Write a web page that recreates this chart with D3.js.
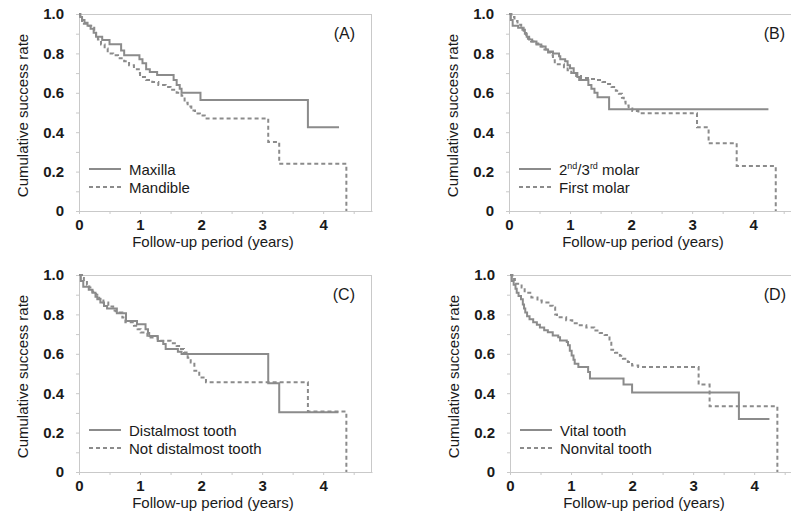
<!DOCTYPE html>
<html>
<head>
<meta charset="utf-8">
<script src="https://cdnjs.cloudflare.com/ajax/libs/d3/7.8.5/d3.min.js"></script>
<style>
body { margin: 0; background: #fff; }
text { font-family: "Liberation Sans", Arial, sans-serif; fill: #1a1a1a; }
</style>
</head>
<body>
<div id="chart-area"></div>
<script>
//Kaplan-Meier steps as [years, cumulative success rate]
var maxilla = [[0,1],[0.02,0.985],[0.05,0.97],[0.09,0.955],[0.14,0.94],[0.19,0.925],[0.24,0.905],[0.28,0.885],[0.38,0.868],[0.5,0.847],[0.69,0.815],[0.74,0.79],[0.99,0.77],[1.04,0.75],[1.1,0.72],[1.16,0.705],[1.28,0.69],[1.55,0.665],[1.6,0.64],[1.65,0.62],[1.68,0.6],[1.99,0.563],[3.75,0.425],[4.26,0.425]]
var mandible = [[0,1],[0.02,0.98],[0.05,0.965],[0.08,0.95],[0.14,0.94],[0.2,0.93],[0.25,0.915],[0.28,0.89],[0.31,0.87],[0.36,0.845],[0.42,0.825],[0.47,0.8],[0.56,0.79],[0.64,0.775],[0.74,0.76],[0.82,0.74],[0.9,0.72],[0.98,0.7],[1.0,0.68],[1.1,0.665],[1.2,0.655],[1.3,0.64],[1.42,0.63],[1.5,0.615],[1.6,0.6],[1.68,0.585],[1.73,0.55],[1.78,0.53],[1.84,0.51],[1.9,0.495],[1.98,0.485],[2.06,0.47],[3.1,0.35],[3.28,0.24],[4.38,0]]

var secondThirdMolar = [[0,1],[0.03,0.97],[0.06,0.94],[0.15,0.93],[0.22,0.92],[0.26,0.9],[0.29,0.885],[0.33,0.87],[0.38,0.86],[0.45,0.845],[0.53,0.835],[0.6,0.82],[0.64,0.81],[0.72,0.8],[0.82,0.785],[0.84,0.77],[0.92,0.76],[0.96,0.74],[1.0,0.725],[1.06,0.7],[1.12,0.68],[1.15,0.665],[1.3,0.64],[1.35,0.62],[1.4,0.6],[1.45,0.578],[1.64,0.516],[4.25,0.516]]
var firstMolar = [[0,1],[0.04,0.985],[0.09,0.965],[0.14,0.945],[0.2,0.93],[0.24,0.915],[0.28,0.895],[0.31,0.875],[0.36,0.86],[0.4,0.85],[0.48,0.835],[0.58,0.82],[0.64,0.805],[0.69,0.79],[0.72,0.765],[0.75,0.745],[0.9,0.73],[0.96,0.715],[1.02,0.7],[1.1,0.685],[1.18,0.675],[1.32,0.67],[1.44,0.665],[1.53,0.655],[1.6,0.645],[1.68,0.63],[1.75,0.61],[1.8,0.595],[1.85,0.575],[1.88,0.555],[1.91,0.535],[1.96,0.52],[2.02,0.507],[2.12,0.496],[3.08,0.425],[3.27,0.344],[3.73,0.228],[4.37,0]]

var distalmost = [[0,1],[0.03,0.97],[0.07,0.94],[0.16,0.925],[0.22,0.91],[0.27,0.89],[0.3,0.877],[0.35,0.86],[0.41,0.843],[0.46,0.83],[0.62,0.806],[0.77,0.767],[0.95,0.75],[1.09,0.725],[1.13,0.705],[1.15,0.69],[1.29,0.665],[1.38,0.65],[1.42,0.624],[1.62,0.61],[1.68,0.599],[3.1,0.45],[3.28,0.303],[4.25,0.303]]
var notDistalmost = [[0,1],[0.05,0.985],[0.08,0.97],[0.13,0.95],[0.17,0.936],[0.22,0.915],[0.28,0.9],[0.33,0.88],[0.4,0.86],[0.48,0.84],[0.56,0.82],[0.6,0.81],[0.71,0.784],[0.76,0.76],[0.9,0.742],[0.96,0.725],[1.01,0.708],[1.12,0.683],[1.29,0.666],[1.5,0.654],[1.6,0.64],[1.67,0.625],[1.72,0.607],[1.78,0.58],[1.83,0.556],[1.89,0.514],[1.97,0.48],[2.08,0.455],[3.75,0.307],[4.38,0]]

var vitalTooth = [[0,1],[0.03,0.97],[0.06,0.95],[0.09,0.93],[0.11,0.91],[0.14,0.894],[0.18,0.877],[0.21,0.85],[0.23,0.83],[0.25,0.81],[0.28,0.79],[0.32,0.775],[0.38,0.76],[0.44,0.748],[0.49,0.734],[0.56,0.72],[0.62,0.71],[0.7,0.693],[0.79,0.684],[0.82,0.668],[0.93,0.66],[0.95,0.643],[0.98,0.615],[1.01,0.592],[1.04,0.57],[1.06,0.55],[1.12,0.533],[1.28,0.508],[1.31,0.474],[1.86,0.444],[2.0,0.403],[3.75,0.269],[4.25,0.269]]
var nonvitalTooth = [[0,1],[0.04,0.98],[0.08,0.955],[0.19,0.936],[0.24,0.91],[0.35,0.886],[0.45,0.87],[0.52,0.86],[0.63,0.844],[0.7,0.835],[0.74,0.8],[0.77,0.785],[0.92,0.77],[1.02,0.755],[1.12,0.745],[1.25,0.734],[1.38,0.718],[1.47,0.705],[1.55,0.695],[1.63,0.667],[1.66,0.62],[1.72,0.605],[1.8,0.59],[1.85,0.575],[1.93,0.558],[2.0,0.541],[2.1,0.533],[3.09,0.444],[3.27,0.334],[4.38,0]]

var panelLabels = ["(A)", "(B)", "(C)", "(D)"]
var legendLabels = [["Maxilla", "Mandible"], ["2nd/3rd molar", "First molar"], ["Distalmost tooth", "Not distalmost tooth"], ["Vital tooth", "Nonvital tooth"]]
var xTickValues = [0, 0.5, 1, 1.5, 2, 2.5, 3, 3.5, 4, 4.5]
var xTickLabels = ["0", "", "1", "", "2", "", "3", "", "4", ""]
var yTickValues = [0, 0.1, 0.2, 0.3, 0.4, 0.5, 0.6, 0.7, 0.8, 0.9, 1.0]
var yTickLabels = ["0", "", "0.2", "", "0.4", "", "0.6", "", "0.8", "", "1.0"]

class KMPanel {
    constructor(svg, left, top, label, legend, solid, dashed) {
        this.svg = svg
        this.left = left
        this.top = top
        this.w = 293
        this.h = 197
        this.label = label
        this.legend = legend
        this.solid = solid
        this.dashed = dashed
        this.axisColor = "#c9c9c9"
        this.lineColor = "#8b8b8b"
    }

    update() {
        var self = this;
        var g = this.svg.append("g").attr("transform", "translate(" + this.left + "," + this.top + ")");
        var x = d3.scaleLinear().domain([0, 4.8]).range([0, this.w]);
        var y = d3.scaleLinear().domain([0, 1]).range([this.h, 0]);

        //frame on top and right
        g.append("line").attr("x1", 0).attr("x2", this.w).attr("y1", 0.5).attr("y2", 0.5)
            .attr("stroke", this.axisColor);
        g.append("line").attr("x1", this.w - 0.5).attr("x2", this.w - 0.5).attr("y1", 0).attr("y2", this.h)
            .attr("stroke", this.axisColor);

        var yAxis = g.append("g")
            .call(d3.axisLeft(y).tickValues(yTickValues).tickSize(3).tickSizeOuter(0).tickPadding(12)
                .tickFormat(function (d, i) { return yTickLabels[i]; }));
        var xAxis = g.append("g")
            .attr("transform", "translate(0," + this.h + ")")
            .call(d3.axisBottom(x).tickValues(xTickValues).tickSize(3).tickSizeOuter(0).tickPadding(5)
                .tickFormat(function (d, i) { return xTickLabels[i]; }));
        [yAxis, xAxis].forEach(function (a) {
            a.selectAll("path, line").attr("stroke", self.axisColor);
            a.selectAll("text").attr("font-size", 15).attr("font-weight", "bold")
                .attr("font-family", "Liberation Sans, Arial, sans-serif").attr("fill", "#1a1a1a");
        });

        //axis titles
        g.append("text")
            .attr("x", 134)
            .attr("y", this.h + 36)
            .attr("text-anchor", "middle")
            .attr("font-size", 15)
            .text("Follow-up period (years)");
        g.append("text")
            .attr("transform", "translate(-51," + (this.h / 2 + 3) + ") rotate(-90)")
            .attr("text-anchor", "middle")
            .attr("font-size", 15)
            .text("Cumulative success rate");

        //panel letter
        g.append("text")
            .attr("x", this.w - 17)
            .attr("y", 25)
            .attr("text-anchor", "end")
            .attr("font-size", 16)
            .text(this.label);

        //survival curves
        var line = d3.line()
            .x(function (d) { return x(d[0]); })
            .y(function (d) { return y(d[1]); })
            .curve(d3.curveStepAfter);
        g.append("path").datum(this.dashed)
            .attr("d", line).attr("fill", "none")
            .attr("stroke", this.lineColor).attr("stroke-width", 2).attr("stroke-dasharray", "4,3");
        g.append("path").datum(this.solid)
            .attr("d", line).attr("fill", "none")
            .attr("stroke", this.lineColor).attr("stroke-width", 2);

        //legend
        var rows = [{dash: null, text: this.legend[0], dy: -42}, {dash: "4,3", text: this.legend[1], dy: -24}];
        rows.forEach(function (r) {
            g.append("line")
                .attr("x1", 10).attr("x2", 42)
                .attr("y1", self.h + r.dy).attr("y2", self.h + r.dy)
                .attr("stroke", self.lineColor).attr("stroke-width", 2)
                .attr("stroke-dasharray", r.dash);
            var t = g.append("text")
                .attr("x", 50)
                .attr("y", self.h + r.dy + 5.5)
                .attr("font-size", 15);
            //superscripts for 2nd/3rd
            var m = r.text.match(/^(\d)nd\/(\d)rd (.*)$/);
            if (m) {
                t.append("tspan").text(m[1]);
                t.append("tspan").attr("font-size", 9).attr("dy", -6).text("nd");
                t.append("tspan").attr("dy", 6).text("/" + m[2]);
                t.append("tspan").attr("font-size", 9).attr("dy", -6).text("rd");
                t.append("tspan").attr("dy", 6).text(" " + m[3]);
            } else {
                t.text(r.text);
            }
        });
    }
}

var svg = d3.select("#chart-area")
    .append("svg")
    .attr("width", 791)
    .attr("height", 519);

var panels = [
    new KMPanel(svg, 79, 14, panelLabels[0], legendLabels[0], maxilla, mandible),
    new KMPanel(svg, 509, 14, panelLabels[1], legendLabels[1], secondThirdMolar, firstMolar),
    new KMPanel(svg, 79, 275, panelLabels[2], legendLabels[2], distalmost, notDistalmost),
    new KMPanel(svg, 510, 275, panelLabels[3], legendLabels[3], vitalTooth, nonvitalTooth)
]
panels.forEach(function (p) { p.update(); });
</script>
</body>
</html>
